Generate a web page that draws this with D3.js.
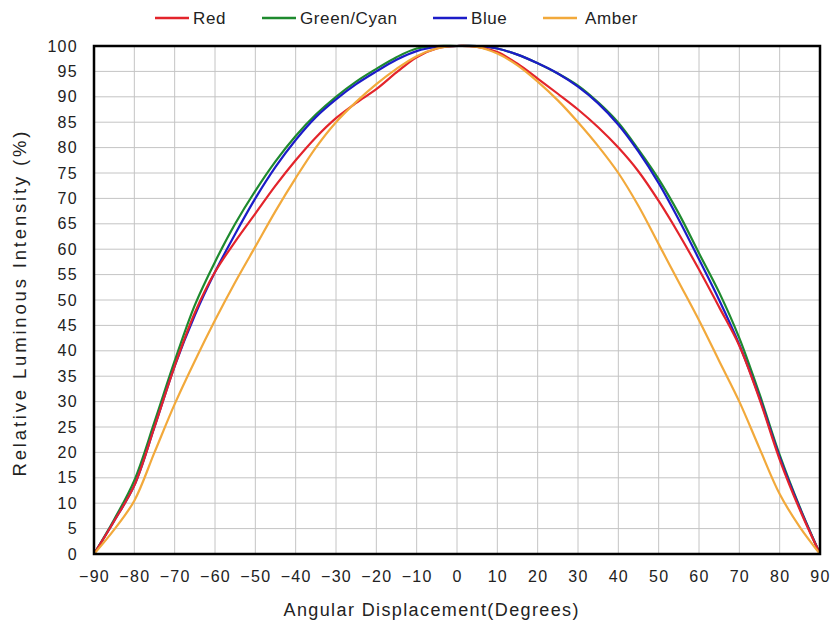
<!DOCTYPE html>
<html>
<head>
<meta charset="utf-8">
<script src="https://cdn.jsdelivr.net/npm/d3@7"></script>
<style>
  html, body { margin: 0; padding: 0; background: #fff; }
  svg { display: block; }
  text { font-family: "Liberation Sans", Arial, sans-serif; fill: #222; }
</style>
</head>
<body>
<svg id="chart" width="833" height="628"></svg>
<script>
const angles = [-90,-85,-80,-75,-70,-65,-60,-55,-50,-45,-40,-35,-30,-25,-20,-15,-10,-5,0,5,10,15,20,25,30,35,40,45,50,55,60,65,70,75,80,85,90];

const red   = [0,6.5,13.5,25,37,47.5,55.5,61.5,67,72.5,77.5,82,85.8,88.8,91.5,94.8,97.8,99.5,100,99.8,98.8,96.5,93.6,90.6,87.5,84,80,75.3,69.5,63,56,48.6,41,30.5,18.6,8.7,0];
const green = [0,6.8,14.5,26,38,49,57.5,65,71.5,77.3,82.3,86.5,90,93,95.5,97.8,99.5,100,100,100,99.5,98.3,96.6,94.6,92.2,88.9,84.9,79.6,73.8,67,59.2,51.5,42.5,31.5,19.5,9.2,0];
const blue  = [0,6.5,13.5,25,37,47,55.5,63,70,76.2,81.5,86,89.5,92.5,95,97.3,99,99.8,100,100,99.5,98.3,96.6,94.6,92,88.7,84.5,79.2,73,65.8,58,50,41.2,30.8,19,9,0];
const amber = [0,4.8,10.5,20,29.5,38,46,53.5,60.5,67.5,74,80,85,89,92.5,95.5,98,99.5,100,99.8,98.5,96.2,93,89.3,85,80.3,75,68.5,61,53.5,46,38,30,20.8,11.8,5.3,0];

const seriesNames  = ["Red","Green/Cyan","Blue","Amber"];
const seriesColors = ["#e3242b","#1e8a2e","#1c1cc8","#f2a93b"];
const seriesValues = [red, green, blue, amber];
const drawOrder = [1, 2, 0, 3];

const xTicks = d3.range(-90, 91, 10);
const yTicks = d3.range(0, 101, 5);

const svg = d3.select("#chart");
const L = 94, R = 820, T = 46, B = 554;

const x = d3.scaleLinear().domain([-90, 90]).range([L, R]);
const y = d3.scaleLinear().domain([0, 100]).range([B, T]);

// grid
const grid = svg.append("g");
grid.selectAll("line.v").data(xTicks).join("line")
  .attr("x1", d => x(d)).attr("x2", d => x(d))
  .attr("y1", T).attr("y2", B)
  .attr("stroke", "#c4c4c4").attr("stroke-width", 1);
grid.selectAll("line.h").data(yTicks).join("line")
  .attr("y1", d => y(d)).attr("y2", d => y(d))
  .attr("x1", L).attr("x2", R)
  .attr("stroke", "#c4c4c4").attr("stroke-width", 1);

// axes labels via d3 axes
const xAxis = d3.axisBottom(x).tickValues(xTicks).tickSize(0).tickPadding(17);
const gx = svg.append("g").attr("transform", `translate(0,${B})`).call(xAxis);
gx.select(".domain").remove();
gx.selectAll("text").attr("font-size", 16).attr("letter-spacing", "1.3px")
  .attr("font-family", "Liberation Sans, Arial, sans-serif").attr("fill", "#222");

const yAxis = d3.axisLeft(y).tickValues(yTicks).tickSize(0).tickPadding(16);
const gy = svg.append("g").attr("transform", `translate(${L},0)`).call(yAxis);
gy.select(".domain").remove();
gy.selectAll("text").attr("font-size", 16).attr("letter-spacing", "1.3px")
  .attr("font-family", "Liberation Sans, Arial, sans-serif").attr("fill", "#222");

// curves
const line = d3.line()
  .x((d, i) => x(angles[i]))
  .y(d => y(d))
  .curve(d3.curveCatmullRom.alpha(0.5));

const plot = svg.append("g");
drawOrder.forEach(k => {
  plot.append("path")
    .datum(seriesValues[k])
    .attr("d", line)
    .attr("fill", "none")
    .attr("stroke", seriesColors[k])
    .attr("stroke-width", 2.2)
    .attr("stroke-linejoin", "round");
});

// frame
svg.append("rect")
  .attr("x", L).attr("y", T).attr("width", R - L).attr("height", B - T)
  .attr("fill", "none").attr("stroke", "#000").attr("stroke-width", 2.5);

// titles
svg.append("text")
  .attr("x", 431).attr("y", 616)
  .attr("text-anchor", "middle").attr("font-size", 18)
  .attr("textLength", 295).attr("lengthAdjust", "spacing")
  .text("Angular Displacement(Degrees)");

svg.append("text")
  .attr("transform", `translate(26,304) rotate(-90)`)
  .attr("text-anchor", "middle").attr("font-size", 18.5)
  .attr("textLength", 345).attr("lengthAdjust", "spacing")
  .text("Relative Luminous Intensity (%)");

// legend
const legendX = [155, 262, 433, 543];
const lg = svg.append("g");
seriesNames.forEach((name, i) => {
  lg.append("line")
    .attr("x1", legendX[i]).attr("x2", legendX[i] + 34)
    .attr("y1", 18).attr("y2", 18)
    .attr("stroke", seriesColors[i]).attr("stroke-width", 2.5);
  lg.append("text")
    .attr("x", legendX[i] + 38 + (i === 3 ? 4 : 0)).attr("y", 24)
    .attr("font-size", 17).attr("letter-spacing", "0.6px")
    .text(name);
});
</script>
</body>
</html>
